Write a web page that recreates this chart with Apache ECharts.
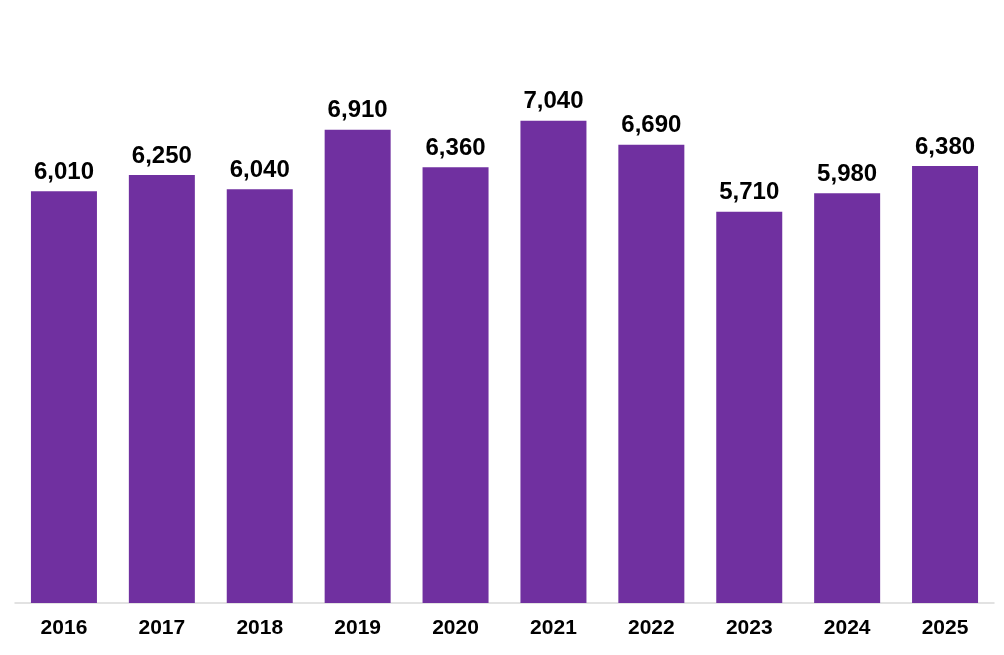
<!DOCTYPE html>
<html>
<head>
<meta charset="utf-8">
<script src="https://cdn.jsdelivr.net/npm/echarts@6/dist/echarts.min.js"></script>
<style>
  html, body { margin: 0; padding: 0; background: #fff; }
  #chart { width: 1004px; height: 655px; }
</style>
</head>
<body>
<div id="chart"></div>
<script>
var years = ['2016', '2017', '2018', '2019', '2020', '2021', '2022', '2023', '2024', '2025'];
var values = [6010, 6250, 6040, 6910, 6360, 7040, 6690, 5710, 5980, 6380];

var myChart = echarts.init(document.getElementById('chart'));

var option = {
  animation: false,
  grid: { left: 15, right: 10, top: 55, bottom: 52, containLabel: false },
  xAxis: {
    type: 'category',
    data: years,
    axisLine: { lineStyle: { color: '#d9d9d9', width: 1.5 } },
    axisTick: { show: false },
    axisLabel: {
      color: '#000',
      fontFamily: 'Liberation Sans, Arial, sans-serif',
      fontWeight: 'bold',
      fontSize: 21,
      margin: 15
    }
  },
  yAxis: {
    type: 'value',
    min: 0,
    max: 8000,
    show: false,
    splitLine: { show: false }
  },
  series: [{
    type: 'bar',
    data: values,
    barWidth: 66,
    itemStyle: { color: '#7030A0' },
    label: {
      show: true,
      position: 'top',
      distance: 7,
      color: '#000',
      fontFamily: 'Liberation Sans, Arial, sans-serif',
      fontWeight: 'bold',
      fontSize: 24,
      formatter: function (p) {
        return p.value.toLocaleString('en-US');
      }
    }
  }]
};

myChart.setOption(option);
</script>
</body>
</html>
